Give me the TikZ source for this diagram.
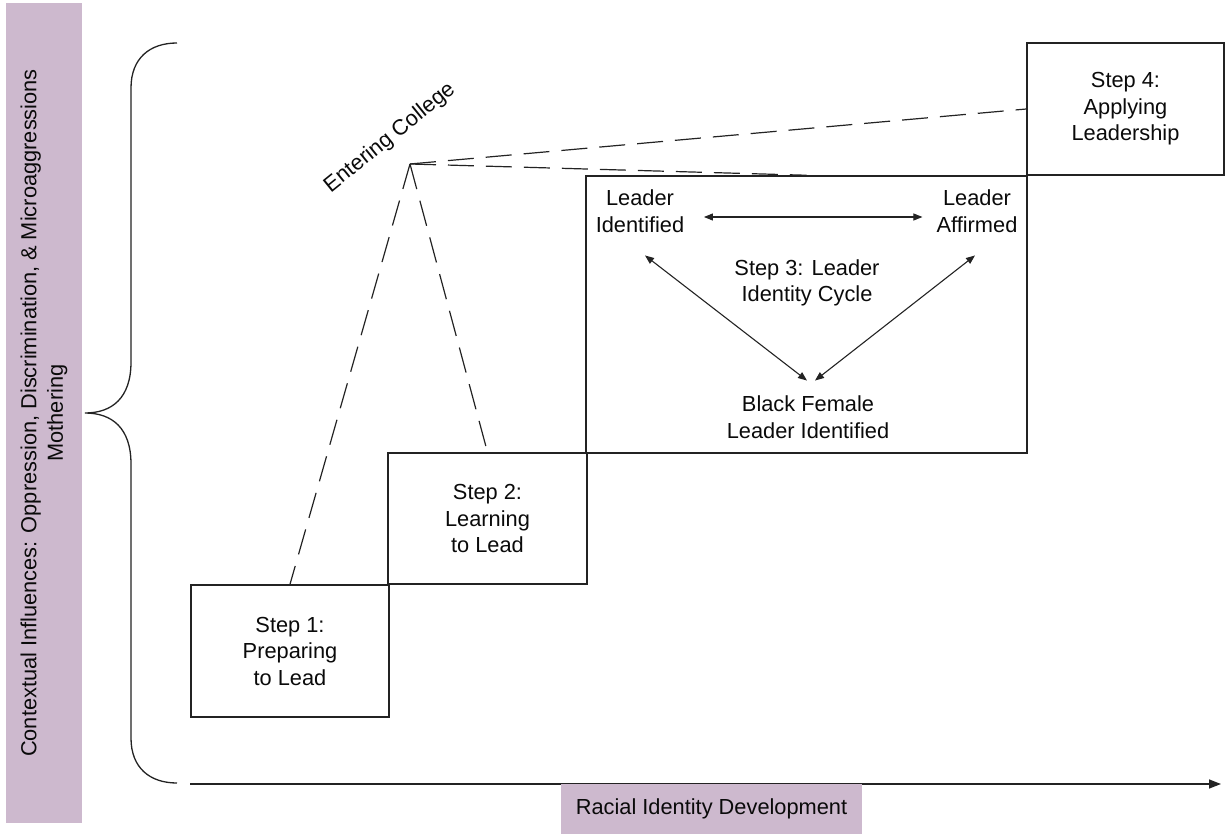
\documentclass[tikz,border=0pt]{standalone}
\usepackage{fontspec}
\setmainfont{Liberation Sans}
\usetikzlibrary{arrows.meta}
\definecolor{lilac}{RGB}{205,185,206}
\definecolor{ink}{RGB}{35,35,35}
\definecolor{textink}{RGB}{10,10,10}

\begin{document}
\begin{tikzpicture}[x=1pt,y=-1pt,
  every node/.style={font=\fontsize{21.8}{26.5}\selectfont, text=textink,
    align=center, inner sep=0pt},
  stepbox/.style={draw=ink, line width=1.5pt},
  tag/.style={fill=lilac},
  link/.style={draw=ink, line width=1.2pt, dash pattern=on 26pt off 12pt},
  cyclearrow/.style={draw=ink, line width=1.1pt,
    {Triangle[length=9pt,width=7pt]}-{Triangle[length=9pt,width=7pt]}},
  axisline/.style={draw=ink, line width=1.4pt, -{Triangle[length=12pt,width=9pt]}},
  bracket/.style={draw=ink, line width=1.3pt},
]
\useasboundingbox (0,0) rectangle (1225,834);

% side label for the contextual influences
\node[tag, rotate=90, minimum width=820pt, minimum height=76pt] (ctx) at (44,413)
  {Contextual Influences: Oppression, Discrimination, \& Microaggressions\\Mothering};

% curly brace spanning the whole process
\draw[bracket] (177,43) .. controls (150,43) and (131,58) .. (131,88)
  -- (131,362) .. controls (131,398) and (112,413) .. (85,413)
  .. controls (112,413) and (131,428) .. (131,464)
  -- (131,738) .. controls (131,768) and (150,783) .. (177,783);

% the four steps
\node[stepbox, minimum width=198pt, minimum height=132pt] (s1) at (290,651)
  {Step 1:\\Preparing\\to Lead};
\node[stepbox, minimum width=199pt, minimum height=131pt] (s2) at (487.5,518.5)
  {Step 2:\\Learning\\to Lead};
\node[stepbox, minimum width=441pt, minimum height=277pt] (s3) at (806.5,314.5) {};
\node[stepbox, minimum width=197pt, minimum height=132pt] (s4) at (1125.5,109)
  {Step 4:\\Applying\\Leadership};

% leader identity cycle inside step 3
\node (lid) at (640,211) {Leader\\Identified};
\node (laf) at (977,211) {Leader\\Affirmed};
\node (s3t) at (807,283) {Step 3: Leader\\Identity Cycle};
\node (bfl) at (808,417) {Black Female\\Leader Identified};

\draw[cyclearrow] ([shift={(19.5,6)}]lid.east) -- ([shift={(-14,6)}]laf.west);
\draw[cyclearrow] ([shift={(5,23)}]lid.south) -- ([shift={(-1,-15)}]bfl.north);
\draw[cyclearrow] ([shift={(-2,23)}]laf.south) -- ([shift={(7,-15)}]bfl.north);

% entering college turning point
\coordinate (ec) at (410,164);
\node[rotate=39] (ecl) at (390,138) {Entering College};
\draw[link] (ec) -- (s1.north);
\draw[link] (ec) -- (s2.north);
\draw[link] (ec) -- (s3.north);
\draw[link] (ec) -- (s4.west);

% racial identity development axis
\coordinate (ax0) at (190,784);
\coordinate (ax1) at (1221,784);
\draw[axisline] (ax0) -- (ax1);
\node[tag, minimum width=301pt, minimum height=50pt] (rid) at (711.5,809)
  {Racial Identity Development};
\end{tikzpicture}
\end{document}
